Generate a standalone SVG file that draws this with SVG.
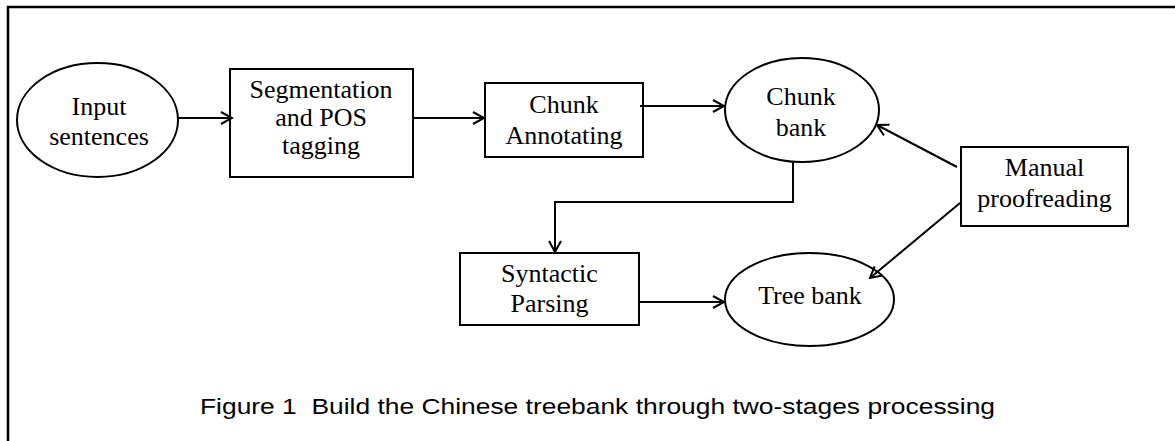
<svg xmlns="http://www.w3.org/2000/svg" width="1175" height="441" viewBox="0 0 1175 441">
<style>
.shape{fill:#fff;stroke:#000;stroke-width:2}
.lbl{font-family:"Liberation Serif","Times New Roman",serif;font-size:26px;fill:#000;text-anchor:middle}
.conn{fill:none;stroke:#000;stroke-width:2;marker-end:url(#arr)}
.cap{font-family:"Liberation Sans",Arial,sans-serif;font-size:22px;fill:#000;white-space:pre}
</style>
<defs>
<marker id="arr" markerUnits="userSpaceOnUse" markerWidth="14" markerHeight="16" refX="12" refY="7" orient="auto" viewBox="0 0 14 14">
<path d="M1,1 L12,7 L1,13" fill="none" stroke="#000" stroke-width="2"/>
</marker>
</defs>
<path d="M8,441 V7 H1175" fill="none" stroke="#000" stroke-width="2.5"/>
<g id="input">
<ellipse class="shape" cx="97.5" cy="120" rx="80.5" ry="57"/>
<text class="lbl" x="99" y="115">Input</text>
<text class="lbl" x="99" y="145">sentences</text>
</g>
<g id="seg">
<rect class="shape" x="230" y="69" width="183" height="108"/>
<text class="lbl" x="321" y="98">Segmentation</text>
<text class="lbl" x="321" y="126">and POS</text>
<text class="lbl" x="321" y="154">tagging</text>
</g>
<g id="chunkann">
<rect class="shape" x="485" y="83" width="158" height="74"/>
<text class="lbl" x="564" y="113">Chunk</text>
<text class="lbl" x="564" y="144">Annotating</text>
</g>
<g id="chunkbank">
<ellipse class="shape" cx="802" cy="110" rx="77" ry="52"/>
<text class="lbl" x="801" y="105">Chunk</text>
<text class="lbl" x="801" y="136">bank</text>
</g>
<g id="syntactic">
<rect class="shape" x="460" y="253" width="179" height="72"/>
<text class="lbl" x="549.5" y="282">Syntactic</text>
<text class="lbl" x="549.5" y="312">Parsing</text>
</g>
<g id="treebank">
<ellipse class="shape" cx="809.5" cy="299.5" rx="84.5" ry="46.5"/>
<text class="lbl" x="810" y="304">Tree bank</text>
</g>
<g id="manual">
<rect class="shape" x="961" y="147" width="167" height="79"/>
<text class="lbl" x="1044.5" y="176">Manual</text>
<text class="lbl" x="1044.5" y="207">proofreading</text>
</g>
<g id="connectors">
<path class="conn" d="M178,118 H232"/>
<path class="conn" d="M413,118 H484"/>
<path class="conn" d="M640,106 H724"/>
<path class="conn" d="M793,162 V202 H555 V252"/>
<path class="conn" d="M639,302 H724"/>
<path class="conn" d="M957,167 L877,125"/>
<path class="conn" d="M960,203 L870,278"/>
</g>
<text class="cap" x="200" y="414" textLength="795" lengthAdjust="spacingAndGlyphs" xml:space="preserve">Figure 1  Build the Chinese treebank through two-stages processing</text>
</svg>
